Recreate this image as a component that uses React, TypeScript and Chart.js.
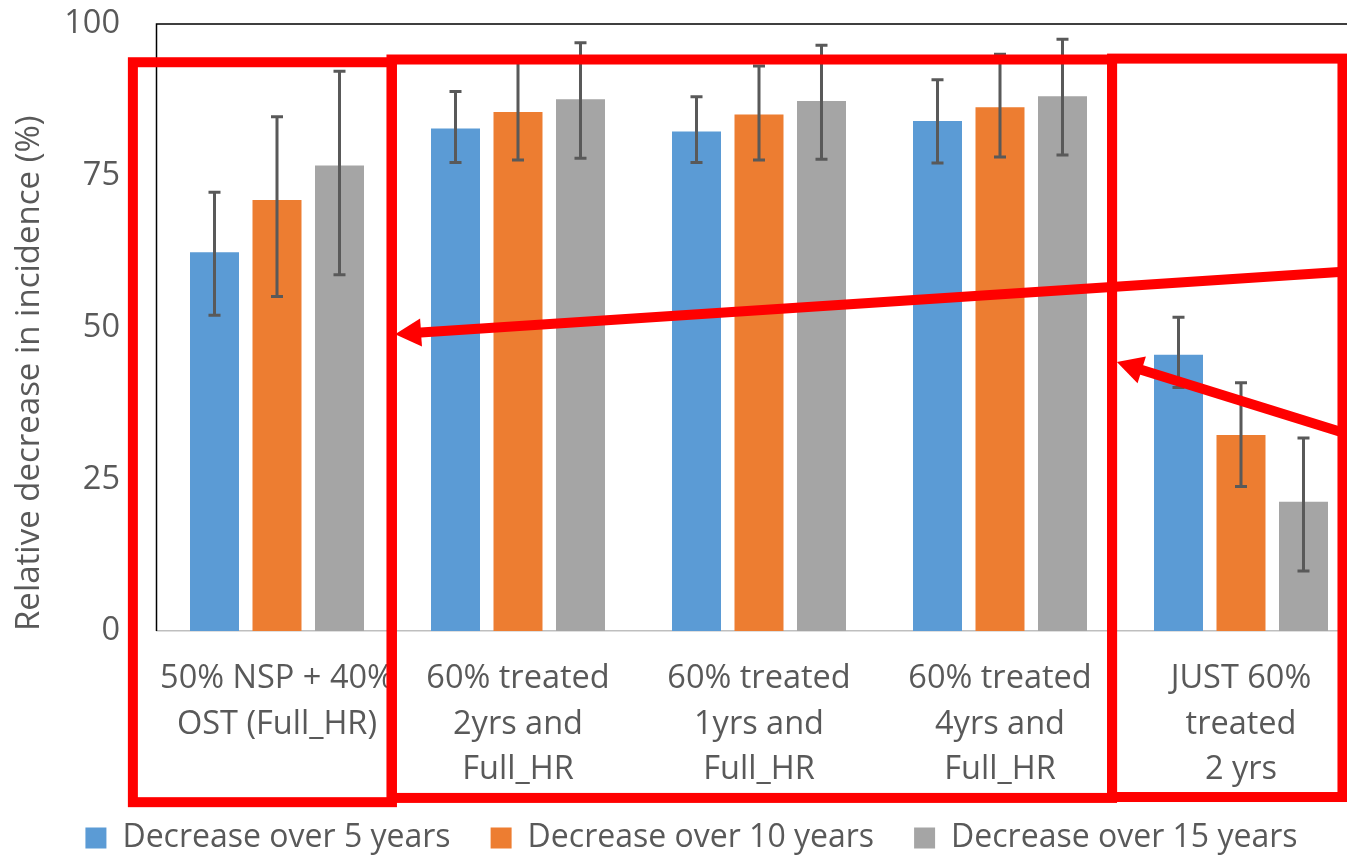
import React, { useEffect, useRef } from 'react';
import { Chart, registerables } from 'chart.js';

Chart.register(...registerables);

// ---------- data ----------
const categories: string[][] = [
  ['50% NSP + 40%', 'OST (Full_HR)'],
  ['60% treated', '2yrs and', 'Full_HR'],
  ['60% treated', '1yrs and', 'Full_HR'],
  ['60% treated', '4yrs and', 'Full_HR'],
  ['JUST 60%', 'treated', '2 yrs'],
];
const seriesNames = ['Decrease over 5 years', 'Decrease over 10 years', 'Decrease over 15 years'];

const decrease5 = [62.4, 82.8, 82.3, 84.0, 45.5];
const decrease5Low = [52.0, 77.2, 77.2, 77.1, 40.1];
const decrease5High = [72.3, 88.9, 88.0, 90.8, 51.7];

const decrease10 = [71.0, 85.5, 85.1, 86.3, 32.3];
const decrease10Low = [55.1, 77.6, 77.6, 78.1, 23.8];
const decrease10High = [84.7, 94.0, 93.1, 95.0, 40.9];

const decrease15 = [76.7, 87.6, 87.3, 88.1, 21.3];
const decrease15Low = [58.7, 77.9, 77.7, 78.4, 9.9];
const decrease15High = [92.2, 96.9, 96.5, 97.5, 31.8];

const yTicks = [0, 25, 50, 75, 100];

// ---------- annotation overlay (in data units: x = category index, y = value) ----------
const boxLeft = [-0.598, 0.475, 3.465];
const boxRight = [0.477, 3.465, 4.421];
const boxTop = [93.7, 94.15, 94.3];
const boxBottom = [-28.2, -27.5, -27.35];

const arrowFromX = [4.502, 4.502];
const arrowFromY = [59.4, 31.7];
const arrowToX = [0.49, 3.485];
const arrowToY = [48.9, 44.3];

// ---------- styles ----------
const COLORS = ['#5B9BD5', '#ED7D31', '#A5A5A5'];
const TEXT = '#595959';
const FONT = "'Open Sans', sans-serif";

const seriesValues = [decrease5, decrease10, decrease15];
const seriesLow = [decrease5Low, decrease10Low, decrease15Low];
const seriesHigh = [decrease5High, decrease10High, decrease15High];

const overlayPlugin = {
  id: 'overlay',
  beforeDraw(chart: any) {
    // let multi-line category labels (descenders, underscores) draw past the axis box
    const xs = chart.scales.x;
    if (xs) xs._computeLabelArea = () => undefined;
  },
  beforeDatasetsDraw(chart: any) {
    const { ctx, chartArea } = chart;
    ctx.save();
    ctx.strokeStyle = '#000000';
    ctx.lineWidth = 1.5;
    ctx.beginPath();
    ctx.moveTo(chartArea.left, chartArea.bottom);
    ctx.lineTo(chartArea.left, chartArea.top);
    ctx.lineTo(chartArea.right, chartArea.top);
    ctx.stroke();
    ctx.restore();
  },
  afterDatasetsDraw(chart: any) {
    const ctx = chart.ctx;
    const ys = chart.scales.y;
    ctx.save();
    ctx.strokeStyle = '#595959';
    ctx.lineWidth = 3;
    ctx.lineCap = 'butt';
    seriesLow.forEach((lows, di) => {
      const meta = chart.getDatasetMeta(di);
      meta.data.forEach((el: any, i: number) => {
        const x = el.x;
        const y1 = ys.getPixelForValue(lows[i]);
        const y2 = ys.getPixelForValue(seriesHigh[di][i]);
        ctx.beginPath();
        ctx.moveTo(x, y1);
        ctx.lineTo(x, y2);
        ctx.moveTo(x - 6, y1);
        ctx.lineTo(x + 6, y1);
        ctx.moveTo(x - 6, y2);
        ctx.lineTo(x + 6, y2);
        ctx.stroke();
      });
    });
    ctx.restore();
  },
  afterDraw(chart: any) {
    const ctx = chart.ctx;
    const xs = chart.scales.x;
    const ys = chart.scales.y;
    ctx.save();
    ctx.strokeStyle = '#FF0000';
    ctx.fillStyle = '#FF0000';
    ctx.lineWidth = 10;
    ctx.lineJoin = 'miter';
    boxLeft.forEach((_, i) => {
      const l = xs.getPixelForValue(boxLeft[i]);
      const r = xs.getPixelForValue(boxRight[i]);
      const t = ys.getPixelForValue(boxTop[i]);
      const b = ys.getPixelForValue(boxBottom[i]);
      ctx.strokeRect(l, t, r - l, b - t);
    });
    arrowFromX.forEach((_, i) => {
      const x0 = xs.getPixelForValue(arrowFromX[i]);
      const y0 = ys.getPixelForValue(arrowFromY[i]);
      const x1 = xs.getPixelForValue(arrowToX[i]);
      const y1 = ys.getPixelForValue(arrowToY[i]);
      const dx = x1 - x0;
      const dy = y1 - y0;
      const len = Math.sqrt(dx * dx + dy * dy);
      const ux = dx / len;
      const uy = dy / len;
      const headLen = 26;
      const headHalf = 14;
      const bx = x1 - ux * headLen;
      const by = y1 - uy * headLen;
      ctx.lineCap = 'butt';
      ctx.beginPath();
      ctx.moveTo(x0, y0);
      ctx.lineTo(bx + ux * 4, by + uy * 4);
      ctx.stroke();
      ctx.beginPath();
      ctx.moveTo(x1, y1);
      ctx.lineTo(bx - uy * headHalf, by + ux * headHalf);
      ctx.lineTo(bx + uy * headHalf, by - ux * headHalf);
      ctx.closePath();
      ctx.fill();
    });
    ctx.restore();
  },
};

export default function App() {
  const ref = useRef<HTMLCanvasElement>(null);

  useEffect(() => {
    if (!ref.current) return;
    Chart.defaults.font.family = FONT;
    const chart = new Chart(ref.current, {
      type: 'bar',
      data: {
        labels: categories,
        datasets: seriesNames.map((name, i) => ({
          label: name,
          data: seriesValues[i],
          backgroundColor: COLORS[i],
          borderWidth: 0,
          categoryPercentage: 0.778,
          barPercentage: 0.784,
        })),
      },
      options: {
        responsive: false,
        animation: false,
        devicePixelRatio: 1,
        layout: { padding: { left: 21.5, right: 21.5, top: 24, bottom: 0 } },
        plugins: {
          legend: {
            position: 'bottom',
            maxHeight: 75,
            labels: {
              boxWidth: 21,
              boxHeight: 21,
              color: TEXT,
              font: { family: FONT, size: 32 },
              padding: 40,
            },
          },
          tooltip: { enabled: false },
          title: { display: false },
        },
        scales: {
          x: {
            afterFit: (s: any) => {
              s.height = 151;
            },
            grid: { display: false, drawTicks: true, tickLength: 25.25 },
            border: { display: true, color: '#BFBFBF', width: 1.5 },
            ticks: {
              color: TEXT,
              font: { family: FONT, size: 32.5, lineHeight: 1.4 },
              padding: 0,
              maxRotation: 0,
              autoSkip: false,
            },
          },
          y: {
            min: 0,
            max: 100,
            afterBuildTicks: (s: any) => {
              s.ticks = yTicks.map((v) => ({ value: v }));
            },
            afterFit: (s: any) => {
              s.width = 135;
            },
            grid: { display: false, drawTicks: true, tickLength: 36.5 },
            border: { display: false },
            ticks: {
              color: TEXT,
              font: { family: FONT, size: 32.5 },
              padding: 0,
            },
            title: {
              display: true,
              text: 'Relative decrease in incidence (%)',
              color: TEXT,
              align: 'start',
              font: { family: FONT, size: 33, lineHeight: 1.2 },
              padding: { top: -11.3, bottom: 0 },
            },
          },
        },
      },
      plugins: [overlayPlugin],
    } as any);
    return () => chart.destroy();
  }, []);

  return (
    <div
      style={{
        position: 'fixed',
        left: 0,
        top: 0,
        width: 1347,
        height: 857,
        overflow: 'hidden',
        background: '#ffffff',
      }}
    >
      <canvas ref={ref} width={1383} height={857} style={{ display: 'block', width: 1383, height: 857 }} />
    </div>
  );
}
